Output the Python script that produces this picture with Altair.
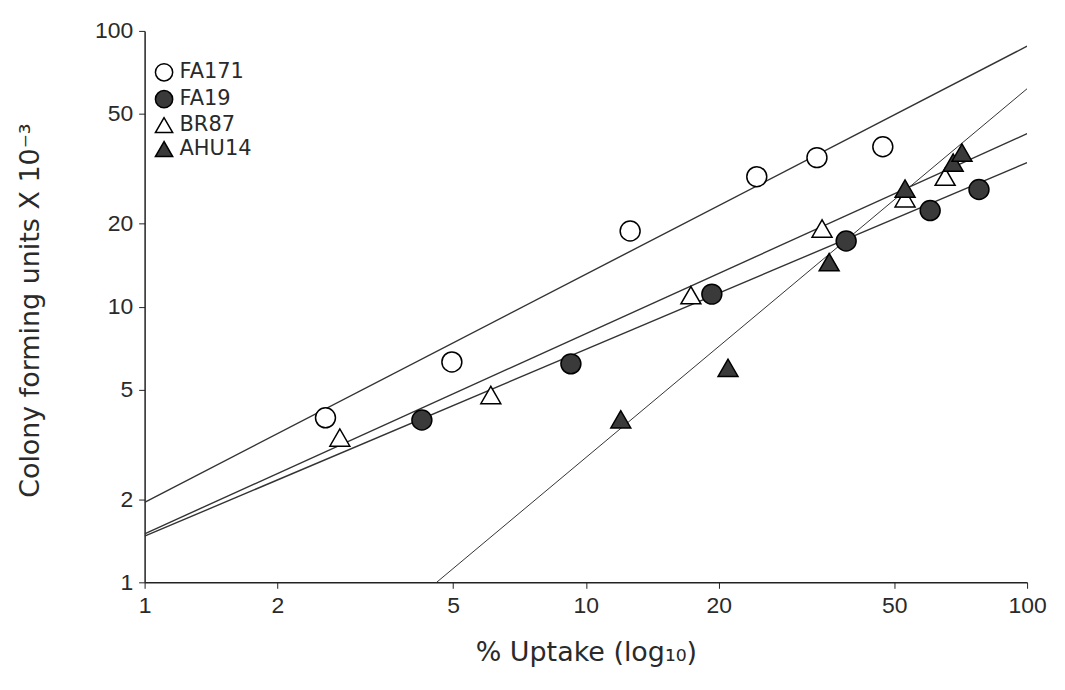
import altair as alt
import pandas as pd

# ---- data ----
strains = ["FA171", "FA19", "BR87", "AHU14"]

fa171_x = [2.57, 4.97, 12.6, 24.4, 33.4, 47.1]
fa171_y = [3.95, 6.3, 18.8, 29.6, 34.7, 38.0]

fa19_x = [4.25, 9.25, 19.3, 38.9, 60.3, 77.8]
fa19_y = [3.88, 6.2, 11.1, 17.3, 22.3, 26.6]

br87_x = [2.77, 6.09, 17.3, 34.3, 52.9, 65.2]
br87_y = [3.35, 4.78, 11.0, 19.2, 24.7, 29.6]

ahu14_x = [12.0, 21.0, 35.6, 52.9, 68.0, 71.2]
ahu14_y = [3.9, 6.0, 14.5, 26.8, 33.3, 36.2]

# fitted regression lines (end points in data units)
line_x0 = [1.0, 1.0, 1.0, 4.59]
line_y0 = [1.95, 1.47, 1.50, 1.0]
line_x1 = [100.0, 100.0, 100.0, 100.0]
line_y1 = [88.0, 33.3, 42.4, 61.7]

tick_vals = [1, 2, 5, 10, 20, 50, 100]

# ---- tables ----
pts = []
for name, xs, ys in zip(strains, [fa171_x, fa19_x, br87_x, ahu14_x],
                        [fa171_y, fa19_y, br87_y, ahu14_y]):
    for xv, yv in zip(xs, ys):
        pts.append({"strain": name, "x": xv, "y": yv})
pts = pd.DataFrame(pts)

lines = []
for i, name in enumerate(strains):
    lines.append({"line": name, "x": line_x0[i], "y": line_y0[i]})
    lines.append({"line": name, "x": line_x1[i], "y": line_y1[i]})
lines = pd.DataFrame(lines)

FONT = "Liberation Sans"
TFONT = "DejaVu Sans"
TXT = "#2a2a2a"

xscale = alt.Scale(type="log", domain=[1, 100], nice=False)
yscale = alt.Scale(type="log", domain=[1, 100], nice=False)

xaxis = alt.Axis(values=tick_vals, title="% Uptake (log₁₀)", grid=False,
                 labelFontSize=23, titleFontSize=27, labelFont=FONT, titleFont=TFONT,
                 labelColor=TXT, titleColor=TXT, titleFontWeight="normal",
                 domainColor="#222", tickColor="#222", tickSize=6, labelPadding=6,
                 titlePadding=22, domainWidth=1.5, labelFlush=False)
yaxis = alt.Axis(values=tick_vals, title="Colony forming units X 10⁻³", grid=False,
                 labelFontSize=23, titleFontSize=27, labelFont=FONT, titleFont=TFONT,
                 labelColor=TXT, titleColor=TXT, titleFontWeight="normal",
                 domainColor="#222", tickColor="#222", tickSize=6, labelPadding=6,
                 titleX=-100, titleY=280, domainWidth=1.5, labelFlush=False)

line_main = alt.Chart(lines).transform_filter(
    alt.datum.line != "AHU14"
).mark_line(color="#333", strokeWidth=1.4, clip=True).encode(
    x=alt.X("x:Q", scale=xscale, axis=xaxis),
    y=alt.Y("y:Q", scale=yscale, axis=yaxis),
    detail="line:N",
)
line_ahu = alt.Chart(lines).transform_filter(
    alt.datum.line == "AHU14"
).mark_line(color="#333", strokeWidth=1.0, clip=True).encode(
    x=alt.X("x:Q", scale=xscale),
    y=alt.Y("y:Q", scale=yscale),
)

legend = alt.Legend(title=None, orient="none", legendX=9, legendY=31,
                    labelFont=TFONT, labelFontSize=21, labelColor=TXT,
                    symbolSize=300, symbolStrokeWidth=1.5,
                    rowPadding=2, labelOffset=5, padding=0)

point_layer = alt.Chart(pts).mark_point(filled=True, strokeWidth=1.5,
                                        opacity=1, size=400).encode(
    x=alt.X("x:Q", scale=xscale),
    y=alt.Y("y:Q", scale=yscale),
    shape=alt.Shape("strain:N", legend=legend,
                    scale=alt.Scale(domain=strains,
                                    range=["circle", "circle", "triangle-up", "triangle-up"])),
    fill=alt.Fill("strain:N", legend=legend,
                  scale=alt.Scale(domain=strains,
                                  range=["white", "#3a3a3a", "white", "#3a3a3a"])),
    stroke=alt.Stroke("strain:N", legend=legend,
                      scale=alt.Scale(domain=strains,
                                      range=["black", "black", "black", "black"])),
)

chart = alt.layer(line_main, line_ahu, point_layer).properties(
    width=885, height=553,
    autosize=alt.AutoSizeParams(type="none"),
    padding={"left": 137, "top": 22, "right": 30, "bottom": 100},
).configure_view(stroke=None)

chart.save("out.html", embed_options={"renderer": "svg", "actions": False})
